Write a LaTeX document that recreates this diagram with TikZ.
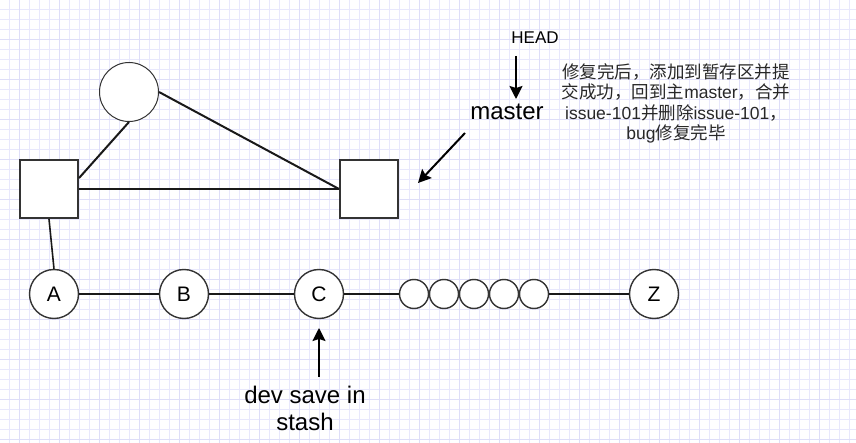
\documentclass[tikz,border=0pt]{standalone}
\usepackage{fontspec}
\setmainfont{Liberation Sans}
\newfontfamily\cjk{Noto Sans CJK SC}
\usetikzlibrary{arrows.meta}

\definecolor{gridminor}{RGB}{232,232,252}
\definecolor{gridmajor}{RGB}{222,222,248}
\definecolor{edgegray}{RGB}{51,51,51}
\definecolor{notegray}{RGB}{40,40,40}

\tikzset{
  gridline/.style={draw=gridminor,line width=1pt},
  gridbold/.style={draw=gridmajor,line width=1pt},
  commit/.style={circle,draw=edgegray,line width=1.4pt,fill=white,minimum size=49pt,
    inner sep=0pt,font=\fontsize{21}{21}\selectfont},
  dot/.style={circle,draw=edgegray,line width=1.4pt,fill=white,minimum size=29pt,inner sep=0pt},
  snap/.style={draw=edgegray,line width=2pt,fill=white,minimum size=58pt,inner sep=0pt},
  link/.style={line width=1.6pt,black!90},
  pointer/.style={line width=2pt,-{Stealth[length=13pt,width=13pt,inset=2pt]}},
}

\begin{document}
\begin{tikzpicture}[x=1pt,y=-1pt]
  \useasboundingbox (0,0) rectangle (856,443);
  \fill[white] (0,0) rectangle (856,443);
  % background grid
  \foreach \x in {9.5,19.5,...,855.5} \draw[gridline] (\x,0) -- (\x,443);
  \foreach \y in {9.5,19.5,...,442.5} \draw[gridline] (0,\y) -- (856,\y);
  \foreach \x in {19.5,59.5,...,855.5} \draw[gridbold] (\x,0) -- (\x,443);
  \foreach \y in {39.5,79.5,...,442.5} \draw[gridbold] (0,\y) -- (856,\y);

  % snapshot tree
  \node[circle,draw=edgegray,line width=1pt,fill=white,minimum size=59pt] (tree) at (129,92) {};
  \node[snap] (sqL) at (49,189) {};
  \node[snap] (sqR) at (369,189) {};
  \draw[link,line width=2pt] (sqL.20) -- (tree.south);
  \draw[link,line width=2pt] (tree.east) -- (sqR.west);
  \draw[link,line width=2pt] (sqL.east) -- (sqR.west);

  % commit line
  \node[commit] (A) at (54,294) {A};
  \node[commit] (B) at (184,294) {B};
  \node[commit] (C) at (319,294) {C};
  \foreach \i in {1,...,5}
    \node[dot] (s\i) at (384+30*\i,294) {};
  \node[commit] (Z) at (654,294) {Z};
  \draw[link] (sqL.south) -- (A.north);
  \draw[link] (A) -- (B);
  \draw[link] (B) -- (C);
  \draw[link] (C) -- (s1);
  \draw[link] (s5) -- (Z);

  % labels
  \node[font=\fontsize{17}{20}\selectfont] (head) at (535,38) {HEAD};
  \node[font=\fontsize{24}{28}\selectfont] (master) at (507,112) {master};
  \node[font=\fontsize{17.5}{20.5}\selectfont,text=notegray,align=center,anchor=north,inner sep=0pt] (note) at (676,63)
    {{\cjk 修复完后，添加到暂存区并提}\\{\cjk 交成功，回到主}master{\cjk ，合并}\\
     issue-101{\cjk 并删除}issue-101{\cjk ，}\\bug{\cjk 修复完毕}};
  \node[font=\fontsize{24}{27}\selectfont,align=center,anchor=north,inner sep=0pt] (stash) at (305,386)
    {dev save in\\stash};

  % pointers
  \coordinate (headfrom) at (516,56);
  \coordinate (headto) at (516,99);
  \coordinate (masterfrom) at (465,133);
  \coordinate (masterto) at (418,183);
  \coordinate (stashfrom) at (319,377);
  \coordinate (stashto) at (319,328);
  \draw[pointer] (headfrom) -- (headto);
  \draw[pointer] (masterfrom) -- (masterto);
  \draw[pointer] (stashfrom) -- (stashto);
\end{tikzpicture}
\end{document}
